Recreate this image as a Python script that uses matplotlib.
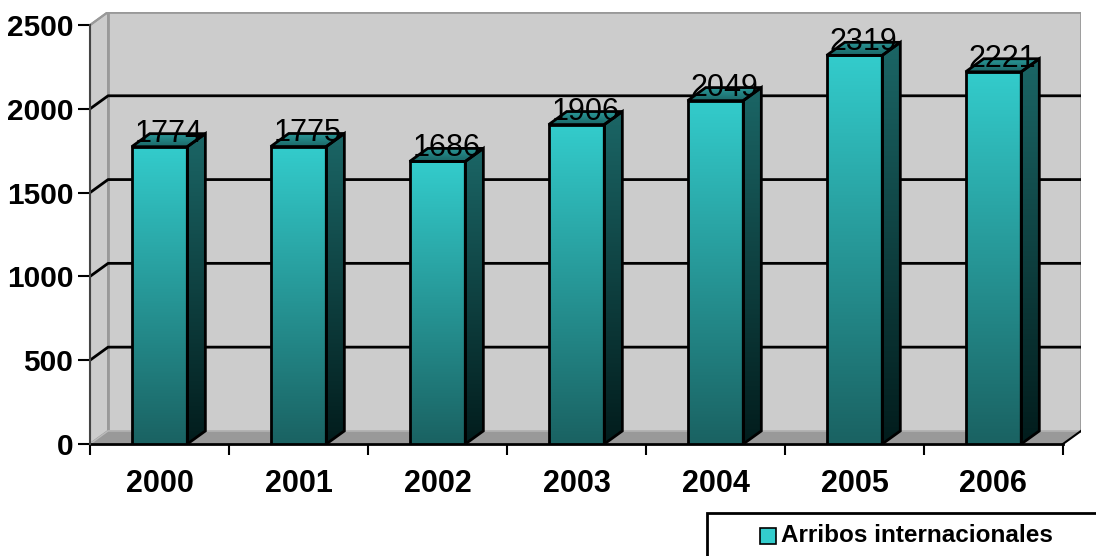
import matplotlib
matplotlib.use('Agg')
import matplotlib.pyplot as plt
import numpy as np
from matplotlib.patches import Polygon, Rectangle
from matplotlib.colors import LinearSegmentedColormap

plt.rcParams['font.family'] = ['Liberation Sans', 'DejaVu Sans']

# Data
years = ['2000', '2001', '2002', '2003', '2004', '2005', '2006']
arribos = [1774, 1775, 1686, 1906, 2049, 2319, 2221]
y_ticks = [0, 500, 1000, 1500, 2000, 2500]
series_name = 'Arribos internacionales'

# 3D look: depth offset in data units (x in categories, y in values)
dx = 0.13
dy = 78
bar_w = 0.4
y_max = 2500

front_cmap = LinearSegmentedColormap.from_list('front', ['#1a6262', '#33cccc'])
side_cmap = LinearSegmentedColormap.from_list('side', ['#021c1c', '#1b6666'])
top_cmap = LinearSegmentedColormap.from_list('top', ['#1b6666', '#2a9a9a'])
grad = np.linspace(0, 1, 256).reshape(-1, 1)

fig = plt.figure(figsize=(10.96, 5.56), dpi=100)
ax = fig.add_axes([90 / 1096, (556 - 444) / 556, 991 / 1096, 432 / 556])

x0, x1 = -0.5, len(years) - 0.5

# walls and floor
side_wall = Polygon([(x0, 0), (x0, y_max), (x0 + dx, y_max + dy), (x0 + dx, dy)],
                    closed=True, facecolor='#cccccc', edgecolor='#999999', lw=1.5, zorder=0)
ax.add_patch(side_wall)
back_wall = Rectangle((x0 + dx, dy), x1 - x0, y_max, facecolor='#cccccc',
                      edgecolor='#999999', lw=2, zorder=0)
ax.add_patch(back_wall)
for v in y_ticks[1:-1]:
    ax.plot([x0, x0 + dx, x1 + dx], [v, v + dy, v + dy], color='black', lw=2, zorder=1)
ax.plot([x0, x0 + dx], [y_max, y_max + dy], color='#999999', lw=1.5, zorder=1)
floor = Polygon([(x0, 0), (x1, 0), (x1 + dx, dy), (x0 + dx, dy)], closed=True,
                facecolor='#999999', edgecolor='#bbbbbb', lw=1, zorder=1)
ax.add_patch(floor)
ax.plot([x1, x1 + dx], [0, dy], color='black', lw=1.5, zorder=1)

# bars
for i, v in enumerate(arribos):
    l, r = i - bar_w / 2, i + bar_w / 2
    z = 2 + i * 0.1
    # front face
    ax.imshow(grad, cmap=front_cmap, origin='lower', extent=[l, r, 0, v],
              aspect='auto', interpolation='bicubic', zorder=z)
    ax.add_patch(Rectangle((l, 0), bar_w, v, fill=False, edgecolor='black', lw=2, zorder=z + 0.03))
    # side face
    side = Polygon([(r, 0), (r + dx, dy), (r + dx, v + dy), (r, v)], closed=True,
                   facecolor='none', edgecolor='black', lw=2, zorder=z + 0.03)
    im = ax.imshow(grad, cmap=side_cmap, origin='lower', extent=[r, r + dx, 0, v + dy],
                   aspect='auto', interpolation='bicubic', zorder=z + 0.01)
    ax.add_patch(side)
    im.set_clip_path(side)
    # top face
    top = Polygon([(l, v), (r, v), (r + dx, v + dy), (l + dx, v + dy)], closed=True,
                  facecolor='none', edgecolor='black', lw=2, zorder=z + 0.03)
    im = ax.imshow(grad, cmap=top_cmap, origin='lower', extent=[l, r + dx, v, v + dy],
                   aspect='auto', interpolation='bicubic', zorder=z + 0.01)
    ax.add_patch(top)
    im.set_clip_path(top)
    # value label
    ax.text(i + dx / 2, v + dy, str(v), ha='center', va='center', fontsize=22,
            color='black', zorder=10)

ax.set_xlim(x0, x1 + dx)
ax.set_ylim(0, y_max + dy)
ax.patch.set_visible(False)

for s in ['top', 'right']:
    ax.spines[s].set_visible(False)
ax.spines['bottom'].set_bounds(x0, x1)
ax.spines['bottom'].set_linewidth(2)
ax.spines['bottom'].set_zorder(1.5)
ax.spines['left'].set_bounds(0, y_max)
ax.spines['left'].set_linewidth(1.5)
ax.spines['left'].set_color('#444444')

ax.set_xticks(np.arange(x0, x1 + 0.01, 1))
ax.set_xticklabels([])
ax.set_xticks(range(len(years)), minor=True)
ax.set_xticklabels(years, minor=True, fontsize=22, fontweight='bold')
ax.tick_params(axis='x', which='major', length=8, width=1.5, direction='out')
ax.tick_params(axis='x', which='minor', length=0, pad=18)

ax.set_yticks(y_ticks)
ax.set_yticklabels([str(t) for t in y_ticks], fontsize=21.5, fontweight='bold')
ax.tick_params(axis='y', length=9, width=1.5, direction='out', pad=3)

# legend box, running off the right and bottom edges
fig.add_artist(Rectangle((707 / 1096, -0.05), 0.4, (556 - 513) / 556 + 0.05,
                         transform=fig.transFigure, facecolor='white',
                         edgecolor='black', lw=2, clip_on=False))
fig.add_artist(Rectangle((760 / 1096, (556 - 544) / 556), 16 / 1096, 16 / 556,
                         transform=fig.transFigure, facecolor='#33cccc',
                         edgecolor='black', lw=1.2))
fig.text(781 / 1096, (556 - 536) / 556, series_name, fontsize=17.5, fontweight='bold',
         ha='left', va='center')

fig.savefig('out.png', dpi=100)
